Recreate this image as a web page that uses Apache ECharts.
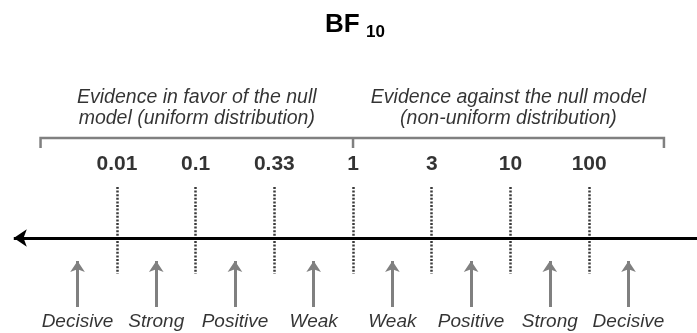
<!DOCTYPE html>
<html>
<head>
<meta charset="utf-8">
<script src="https://cdn.jsdelivr.net/npm/echarts@6/dist/echarts.min.js"></script>
<style>
  html, body { margin: 0; padding: 0; background: #fff; }
  #chart { width: 697px; height: 333px; }
</style>
</head>
<body>
<div id="chart"></div>
<script>
// BF10 thresholds, drawn at equal steps along the scale
const thresholds = ['0.01', '0.1', '0.33', '1', '3', '10', '100'];
// evidence labels sit between the thresholds
const evidence = ['Decisive', 'Strong', 'Positive', 'Weak', 'Weak', 'Positive', 'Strong', 'Decisive'];
const groupLabels = [
  'Evidence in favor of the null\nmodel (uniform distribution)',
  'Evidence against the null model\n(non-uniform distribution)'
];

// vertical layout (y axis runs in pixels, top to bottom)
const Y = {
  group: 108, bracketTop: 138, bracketBottom: 148, tick: 164,
  dotTop: 187, dotBottom: 274, axis: 238,
  arrowTop: 258, arrowBottom: 307, evidence: 322
};
const bracketEnds = [-0.97, 6.95];

const n = thresholds.length;
const idx = thresholds.map((_, i) => i);
const mids = evidence.map((_, i) => i - 0.5);
const middle = (n - 1) / 2;

const chart = echarts.init(document.getElementById('chart'));
const FONT = '"Liberation Sans", Arial, sans-serif';

const textLabel = (size, weight, style) => ({
  show: true, position: 'inside', formatter: p => p.data[2],
  fontFamily: FONT, fontSize: size, fontWeight: weight, fontStyle: style,
  color: '#000', align: 'center', verticalAlign: 'middle'
});

const option = {
  animation: false,
  grid: { left: 13, right: 0, top: 0, bottom: 0 },
  xAxis: { type: 'value', min: -1.32, max: 7.37, show: false },
  yAxis: { type: 'value', min: 0, max: 333, inverse: true, show: false },
  graphic: [
    {
      type: 'text', left: 325, top: 12,
      style: { text: 'BF', font: 'bold 26px ' + FONT, fill: '#000' }
    },
    {
      type: 'text', left: 366, top: 24,
      style: { text: '10', font: 'bold 17px ' + FONT, fill: '#000' }
    }
  ],
  series: [
    // main axis, arrow pointing left
    {
      type: 'lines', coordinateSystem: 'cartesian2d', z: 3,
      symbol: ['none', 'arrow'], symbolSize: 13,
      lineStyle: { color: '#000', width: 3, opacity: 1 },
      data: [{ coords: [[7.37, Y.axis], [-1.31, Y.axis]] }]
    },
    // dotted threshold markers
    {
      type: 'lines', coordinateSystem: 'cartesian2d', z: 2,
      lineStyle: { color: '#3a3a3a', width: 2.5, type: [2, 1.6], opacity: 1 },
      data: idx.map(i => ({ coords: [[i, Y.dotTop], [i, Y.dotBottom]] }))
    },
    // grey arrows under each evidence class
    {
      type: 'lines', coordinateSystem: 'cartesian2d',
      symbol: ['none', 'arrow'], symbolSize: 11,
      lineStyle: { color: '#808080', width: 3, opacity: 1 },
      data: mids.map(x => ({ coords: [[x, Y.arrowBottom], [x, Y.arrowTop + 3]] }))
    },
    // brackets
    {
      type: 'lines', coordinateSystem: 'cartesian2d', polyline: true,
      lineStyle: { color: '#808080', width: 2.5, opacity: 1, join: 'miter' },
      data: [
        { coords: [[bracketEnds[0], Y.bracketBottom], [bracketEnds[0], Y.bracketTop],
                   [bracketEnds[1], Y.bracketTop], [bracketEnds[1], Y.bracketBottom]] },
        { coords: [[middle, Y.bracketTop], [middle, Y.bracketBottom]] }
      ]
    },
    // threshold labels
    {
      type: 'scatter', symbolSize: 0,
      label: textLabel(21, 'bold', 'normal'),
      data: thresholds.map((t, i) => [i, Y.tick, t])
    },
    // evidence labels
    {
      type: 'scatter', symbolSize: 0,
      label: textLabel(19, 'normal', 'italic'),
      data: evidence.map((t, i) => [mids[i], Y.evidence, t])
    },
    // group labels above the brackets
    {
      type: 'scatter', symbolSize: 0,
      label: Object.assign(textLabel(19.5, 'normal', 'italic'), { lineHeight: 21 }),
      data: [
        [(bracketEnds[0] + middle) / 2, Y.group, groupLabels[0]],
        [(bracketEnds[1] + middle) / 2, Y.group, groupLabels[1]]
      ]
    }
  ]
};

chart.setOption(option);
window.addEventListener('resize', () => chart.resize());
</script>
</body>
</html>
